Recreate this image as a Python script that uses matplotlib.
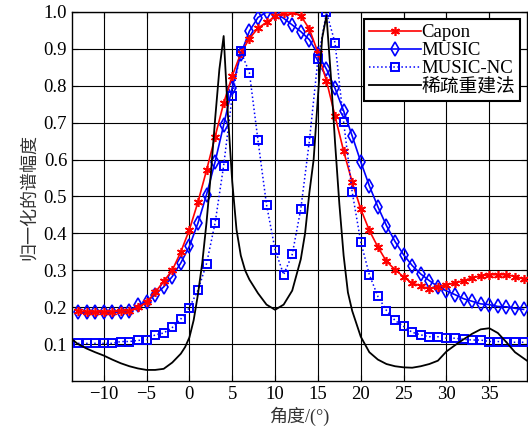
import numpy as np
import matplotlib
matplotlib.use('Agg')
from matplotlib import pyplot as plt

plt.rcParams['font.family'] = ['Liberation Serif', 'Noto Sans CJK SC']
plt.rcParams['axes.unicode_minus'] = True

angles = np.arange(-13, 40)

capon = [0.19, 0.187, 0.187, 0.187, 0.188, 0.19, 0.19, 0.20, 0.213, 0.24,
         0.27, 0.30, 0.35, 0.41, 0.485, 0.571, 0.662, 0.753, 0.827, 0.888,
         0.928, 0.956, 0.972, 0.988, 0.997, 1.0, 0.99, 0.954, 0.89, 0.813,
         0.718, 0.623, 0.539, 0.466, 0.408, 0.363, 0.324, 0.302, 0.282, 0.265,
         0.258, 0.249, 0.255, 0.261, 0.265, 0.272, 0.279, 0.285, 0.288, 0.288,
         0.288, 0.283, 0.276]

music = [0.188, 0.186, 0.186, 0.186, 0.187, 0.188, 0.19, 0.205, 0.215, 0.234,
         0.255, 0.283, 0.32, 0.365, 0.428, 0.505, 0.594, 0.694, 0.795, 0.886,
         0.948, 0.985, 1.0, 0.997, 0.983, 0.965, 0.947, 0.925, 0.886, 0.845,
         0.793, 0.732, 0.664, 0.594, 0.529, 0.472, 0.421, 0.378, 0.342, 0.313,
         0.29, 0.272, 0.256, 0.244, 0.234, 0.223, 0.216, 0.209, 0.207, 0.202,
         0.201, 0.197, 0.194]

music_nc = [0.102, 0.102, 0.102, 0.102, 0.102, 0.107, 0.107, 0.11, 0.112, 0.125,
            0.13, 0.145, 0.168, 0.199, 0.246, 0.318, 0.428, 0.584, 0.773, 0.893,
            0.836, 0.653, 0.478, 0.356, 0.288, 0.343, 0.466, 0.65, 0.872, 0.999,
            0.916, 0.702, 0.512, 0.377, 0.288, 0.229, 0.191, 0.164, 0.148, 0.132,
            0.125, 0.12, 0.12, 0.116, 0.116, 0.113, 0.111, 0.111, 0.107, 0.107,
            0.105, 0.105, 0.105]

sparse_x = [-13.7, -13, -12, -11, -10, -9, -8, -7, -6, -5, -4, -3, -2, -1, -0.5,
            0, 0.5, 1, 1.5, 2, 2.5, 3, 3.5, 4, 4.5, 5, 5.5, 6, 6.5, 7, 8, 9, 10,
            11, 12, 13, 13.5, 14, 14.5, 15, 15.5, 16, 16.5, 17, 17.5, 18, 18.5,
            19, 20, 21, 22, 23, 24, 25, 26, 27, 28, 29, 30, 31, 32, 33, 34, 35,
            36, 37, 38, 39.4]
sparse_y = [0.113, 0.10, 0.088, 0.078, 0.069, 0.058, 0.048, 0.04, 0.034, 0.030,
            0.030, 0.033, 0.05, 0.074, 0.092, 0.118, 0.165, 0.235, 0.32, 0.43,
            0.56, 0.709, 0.845, 0.935, 0.72, 0.54, 0.41, 0.34, 0.30, 0.275, 0.238,
            0.207, 0.193, 0.207, 0.245, 0.33, 0.40, 0.51, 0.60, 0.77, 0.93, 0.99,
            0.83, 0.646, 0.48, 0.34, 0.24, 0.19, 0.12, 0.078, 0.058, 0.046, 0.04,
            0.037, 0.036, 0.04, 0.046, 0.055, 0.08, 0.097, 0.113, 0.128, 0.14,
            0.143, 0.13, 0.105, 0.078, 0.055]

fig = plt.figure(figsize=(5.28, 4.41), dpi=100)
ax = fig.add_axes([72 / 528, (441 - 381) / 441, 455 / 528, 369 / 441])

ax.plot(angles, music, color='blue', lw=1.2, marker='d', ms=7.5, mfc='none',
        mew=1.2, label='MUSIC', zorder=3)
ax.plot(angles, capon, color='red', lw=1.2, marker=(6, 2, 0), ms=6.5,
        mew=1.2, label='Capon', zorder=4)
ax.plot(angles, music_nc, color='blue', lw=1.1, ls=':', marker='s', ms=6,
        mfc='none', mew=1.4, label='MUSIC-NC', zorder=5)
ax.plot(sparse_x, sparse_y, color='black', lw=1.3, label='稀疏重建法', zorder=6)

ax.set_xlim(-13.7, 39.4)
ax.set_ylim(0, 1.0)
ax.set_xticks(np.arange(-10, 40, 5))
ax.set_yticks(np.arange(0.1, 1.01, 0.1))
ax.set_yticklabels(['%.1f' % v for v in np.arange(0.1, 1.01, 0.1)])
ax.grid(True, color='black', lw=0.8)
ax.tick_params(direction='in', labelsize=13.5, length=4, top=True, right=True)
for s in ax.spines.values():
    s.set_linewidth(1.0)

ax.set_xlabel('角度/(°)', fontsize=13, labelpad=3, color='#333333')
ax.set_ylabel('归一化的谱幅度', fontsize=13, labelpad=4, color='#333333')

handles, labels = ax.get_legend_handles_labels()
order = [1, 0, 2, 3]
leg = ax.legend([handles[i] for i in order], [labels[i] for i in order],
                loc='upper right', fontsize=13.5, labelspacing=0.05,
                handlelength=2.8, handletextpad=0.0, borderpad=0.25,
                borderaxespad=0.4, fancybox=False, edgecolor='black',
                framealpha=1)
leg.get_frame().set_linewidth(1.5)
leg.set_zorder(10)

fig.savefig('out.png', dpi=100)
